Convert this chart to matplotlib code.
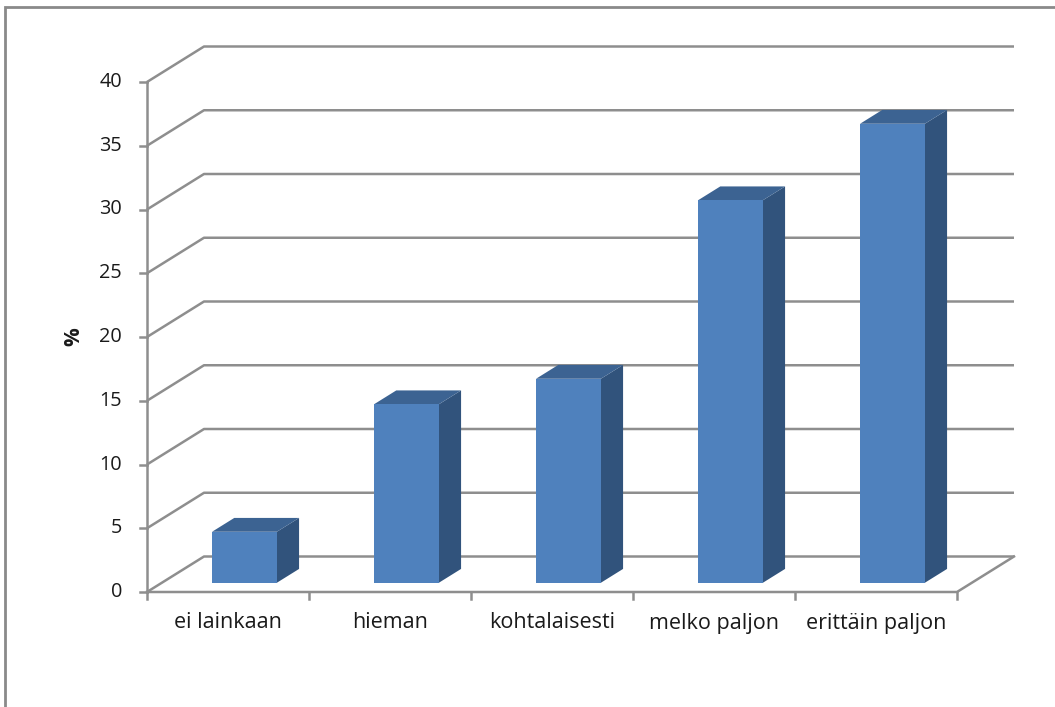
import matplotlib
matplotlib.use("Agg")
import matplotlib.pyplot as plt
from matplotlib.patches import Polygon, Rectangle
from matplotlib.lines import Line2D

categories = ["ei lainkaan", "hieman", "kohtalaisesti", "melko paljon", "erittäin paljon"]
values = [4, 14, 16, 30, 36]
y_ticks = [0, 5, 10, 15, 20, 25, 30, 35, 40]
y_label = "%"

FRONT = "#4F81BD"
TOP = "#3C6392"
SIDE = "#31537C"
GRID = "#8E8E8E"
TEXT = "#1A1A1A"

plt.rcParams["font.family"] = ["Open Sans", "DejaVu Sans"]

W, H = 1055, 707
fig = plt.figure(figsize=(W / 100, H / 100), dpi=100)

# front plane of the 3-D box: x in category units, y in percent
ax = fig.add_axes([147 / W, (H - 592) / H, 810 / W, 510 / H])
ax.set_xlim(0, len(categories))
ax.set_ylim(0, 40)
ax.axis("off")

# oblique depth offset of the back wall, in data units
px_x = len(categories) / 810
px_y = 40 / 510
DX = 57 * px_x
DY = 35.5 * px_y

n = len(categories)
lw = 1.8

# back wall gridlines with their diagonal on the left wall
for t in y_ticks:
    ax.add_line(Line2D([0, DX, n + DX], [t, t + DY, t + DY], color=GRID, lw=lw,
                       clip_on=False, zorder=1, solid_capstyle="butt"))
# left wall front edge
ax.add_line(Line2D([0, 0], [0, 40], color=GRID, lw=lw, clip_on=False, zorder=2))
# floor outline
ax.add_line(Line2D([0, n, n + DX], [0, 0, DY], color=GRID, lw=lw, clip_on=False, zorder=2))

# y ticks and labels
for t in y_ticks:
    ax.add_line(Line2D([-7 * px_x, 0], [t, t], color=GRID, lw=lw, clip_on=False, zorder=2))
    ax.text(-25 * px_x, t, str(t), ha="right", va="center", fontsize=14.3, color=TEXT)

# x ticks and category labels
for i in range(n + 1):
    ax.add_line(Line2D([i, i], [0, -7 * px_y], color=GRID, lw=lw, clip_on=False, zorder=2))
for i, c in enumerate(categories):
    ax.text(i + 0.5, -31 * px_y, c, ha="center", va="center", fontsize=15.5, color=TEXT)

ax.text(-73 * px_x, 20, y_label, rotation=90, ha="center", va="center",
        fontsize=15, fontweight="bold", color=TEXT)

# 3-D columns
bw = 0.40
f0 = 0.26      # depth fraction of the front face
fd = 0.39      # column depth as a fraction of the box depth
ox, oy = f0 * DX, f0 * DY
sx, sy = fd * DX, fd * DY
for i, v in enumerate(values):
    x0 = i + 0.5 - bw / 2 + ox + 0.01
    x1 = x0 + bw
    y0 = oy
    y1 = v + oy
    ax.add_patch(Polygon([(x1, y0), (x1 + sx, y0 + sy), (x1 + sx, y1 + sy), (x1, y1)],
                         closed=True, facecolor=SIDE, edgecolor="none", zorder=3, clip_on=False))
    ax.add_patch(Polygon([(x0, y1), (x1, y1), (x1 + sx, y1 + sy), (x0 + sx, y1 + sy)],
                         closed=True, facecolor=TOP, edgecolor="none", zorder=3, clip_on=False))
    ax.add_patch(Rectangle((x0, y0), bw, v, facecolor=FRONT, edgecolor="none",
                           zorder=4, clip_on=False))

# chart area border
fig.add_artist(Rectangle((5 / W, -0.05), 1.1, (H - 7) / H + 0.05, transform=fig.transFigure,
                         fill=False, edgecolor="#8A8A8A", lw=2))

fig.savefig("out.png", dpi=100)
